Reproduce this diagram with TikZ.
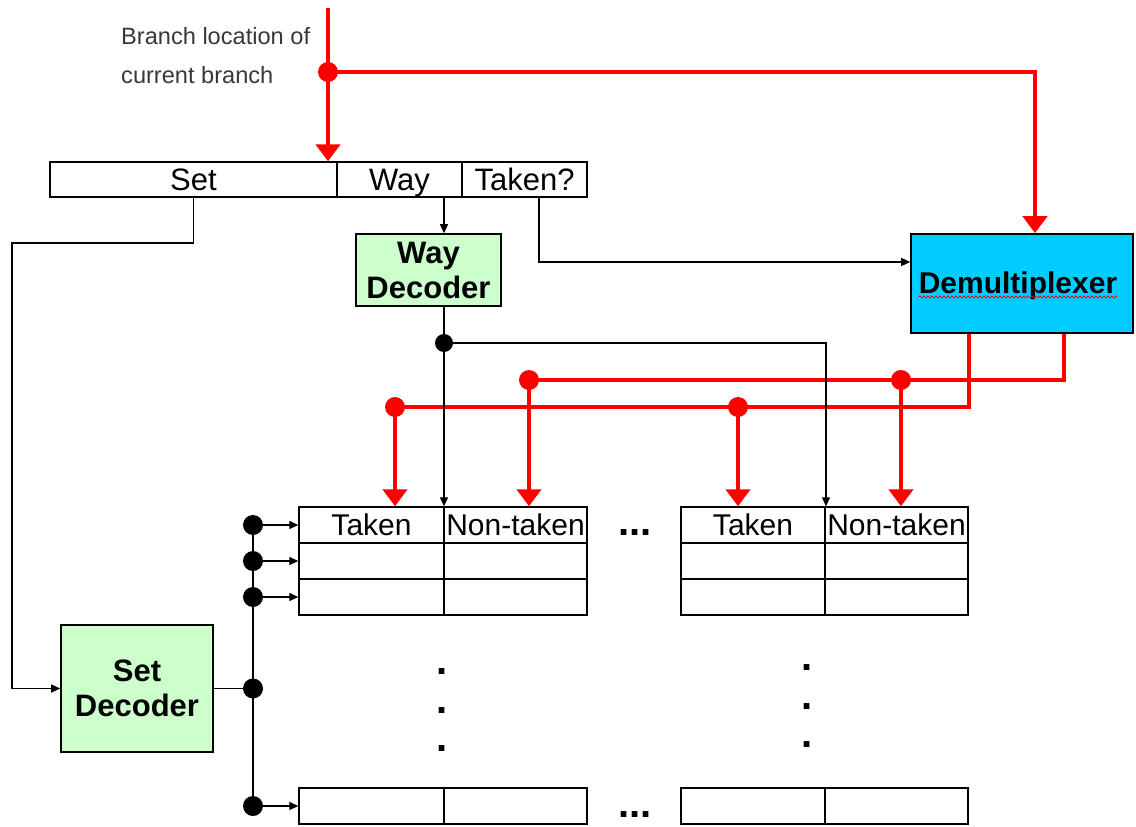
\documentclass[tikz,border=0pt]{standalone}
\usepackage{fontspec}
\setmainfont{Liberation Sans}
\usetikzlibrary{arrows.meta,decorations.pathmorphing}
\definecolor{decgreen}{HTML}{CCFFCC}
\definecolor{demuxblue}{HTML}{00CCFF}
\definecolor{sigred}{HTML}{FF0000}

\begin{document}
\begin{tikzpicture}[x=1pt,y=-1pt,
  cell/.style={draw, line width=1.4pt, inner sep=0pt, minimum height=36pt,
    text height=21pt, text depth=0pt, font=\fontsize{30}{32}\selectfont},
  field/.style={cell, minimum height=35pt, font=\fontsize{31}{32}\selectfont},
  unit/.style={draw, line width=1.6pt, inner sep=0pt, align=center,
    font=\bfseries\fontsize{31}{35}\selectfont},
  wire/.style={line width=1.3pt},
  warrow/.style={wire, -{Triangle[width=8pt,length=9pt]}},
  rwire/.style={sigred, line width=4.5pt},
  rarrow/.style={rwire, -{Triangle[width=24pt,length=17pt]}},
  rdot/.style={circle, fill=sigred, inner sep=0pt, minimum size=20pt},
  bdot/.style={circle, fill=black, inner sep=0pt, minimum size=20pt},
  note/.style={anchor=base west, inner sep=0pt, text=black!78,
    font=\fontsize{23.6}{28}\selectfont},
  gap/.style={anchor=base, inner sep=0pt, font=\bfseries\fontsize{40}{40}\selectfont},
]
\fill[white] (0,0) rectangle (1136,827);
\useasboundingbox (0,0) rectangle (1136,827);

% input label
\node[note] (lbl1) at (121,45) {Branch location of};
\node[note] (lbl2) at (121,83) {current branch};

% address fields
\node[field, minimum width=287pt] (hset) at (193.5,179.5) {Set};
\node[field, minimum width=125pt] (hway) at (399.5,179.5) {Way};
\node[field, minimum width=125pt] (htak) at (524.5,179.5) {Taken?};

% functional units
\node[unit, fill=decgreen, minimum width=145pt, minimum height=72pt] (wdec) at (428.5,270) {Way\\Decoder};
\node[unit, fill=decgreen, minimum width=152pt, minimum height=127pt] (sdec) at (137,688.5) {Set\\Decoder};
\node[unit, fill=demuxblue, minimum width=222pt, minimum height=99pt] (demux) at (1022,283.5) {};
\node[anchor=base, inner sep=0pt, font=\bfseries\fontsize{30}{32}\selectfont] (dmtext) at (1018,293) {Demultiplexer};
\draw[sigred, line width=0.7pt, decorate, decoration={snake, amplitude=1.1pt, segment length=4pt}]
  ([yshift=-4pt]dmtext.base west) -- ([yshift=-4pt]dmtext.base east);

% counter table, first way group
\node[cell, minimum width=145pt] (t1a0) at (371.5,525) {Taken};
\node[cell, minimum width=143pt] (t1b0) at (515.5,525) {Non-taken};
\node[cell, minimum width=145pt] (t1a1) at (371.5,561) {};
\node[cell, minimum width=143pt] (t1b1) at (515.5,561) {};
\node[cell, minimum width=145pt] (t1a2) at (371.5,597) {};
\node[cell, minimum width=143pt] (t1b2) at (515.5,597) {};
\node[cell, minimum width=145pt] (t1an) at (371.5,806) {};
\node[cell, minimum width=143pt] (t1bn) at (515.5,806) {};

% counter table, last way group
\node[cell, minimum width=144pt] (t2a0) at (753,525) {Taken};
\node[cell, minimum width=143pt] (t2b0) at (896.5,525) {Non-taken};
\node[cell, minimum width=144pt] (t2a1) at (753,561) {};
\node[cell, minimum width=143pt] (t2b1) at (896.5,561) {};
\node[cell, minimum width=144pt] (t2a2) at (753,597) {};
\node[cell, minimum width=143pt] (t2b2) at (896.5,597) {};
\node[cell, minimum width=144pt] (t2an) at (753,806) {};
\node[cell, minimum width=143pt] (t2bn) at (896.5,806) {};

% elided rows and groups
\node[gap] (hgap1) at (635,535) {...};
\node[gap] (hgap2) at (635,817) {...};
\node[gap] (v1a) at (442,674.5) {.};
\node[gap] (v1b) at (442,713.5) {.};
\node[gap] (v1c) at (442,751.5) {.};
\node[gap] (v2a) at (807,670.5) {.};
\node[gap] (v2b) at (807,709.5) {.};
\node[gap] (v2c) at (807,747.5) {.};

% junction points
\coordinate (rin) at (328,8);
\coordinate (rsplit) at (328,72);
\coordinate (rcorner) at (1035,72);
\coordinate (ra1) at (395,407);
\coordinate (ra2) at (738,407);
\coordinate (rb1) at (529,380);
\coordinate (rb2) at (901,380);
\coordinate (sbend) at (12,243);
\coordinate (wj) at (444,343);
\coordinate (wj2) at (826,343);
\coordinate (tj) at (539,262);
\coordinate (bd1) at (253,525);
\coordinate (bd2) at (253,561);
\coordinate (bd3) at (253,597);
\coordinate (bd4) at (253,688.5);
\coordinate (bd5) at (253,806);

% branch address (red)
\draw[rarrow] (rin) -- (rin |- hset.north);
\draw[rarrow] (rsplit) -- (rcorner) -- (rcorner |- demux.north);

% demultiplexer outputs (red)
\draw[rwire] ([xshift=-53pt]demux.south) |- (ra1);
\draw[rwire] ([xshift=42pt]demux.south) |- (rb1);
\draw[rarrow] (ra1) -- (ra1 |- t1a0.north);
\draw[rarrow] (ra2) -- (ra2 |- t2a0.north);
\draw[rarrow] (rb1) -- (rb1 |- t1b0.north);
\draw[rarrow] (rb2) -- (rb2 |- t2b0.north);

% set index path
\draw[warrow] (hset.south) |- (sbend) |- (sdec.west);

% way index path
\draw[warrow] (wj |- hway.south) -- (wj |- wdec.north);
\draw[wire] (wj |- wdec.south) -- (wj);
\draw[warrow] (wj) -- (wj |- t1a0.north);
\draw[warrow] (wj) -- (wj2) -- (wj2 |- t2a0.north);

% outcome bit to demultiplexer
\draw[warrow] (tj |- htak.south) -- (tj) -- (tj -| demux.west);

% set decoder row selects
\draw[wire] (bd1) -- (bd5);
\draw[wire] (sdec.east) -- (bd4);
\draw[warrow] (bd1) -- (t1a0.west);
\draw[warrow] (bd2) -- (t1a1.west);
\draw[warrow] (bd3) -- (t1a2.west);
\draw[warrow] (bd5) -- (t1an.west);

% junction dots
\node[rdot] (drsplit) at (rsplit) {};
\node[rdot] (dra1) at (ra1) {};
\node[rdot] (dra2) at (ra2) {};
\node[rdot] (drb1) at (rb1) {};
\node[rdot] (drb2) at (rb2) {};
\node[bdot, minimum size=18pt] (dwj) at (wj) {};
\node[bdot] (dbd1) at (bd1) {};
\node[bdot] (dbd2) at (bd2) {};
\node[bdot] (dbd3) at (bd3) {};
\node[bdot] (dbd4) at (bd4) {};
\node[bdot] (dbd5) at (bd5) {};
\end{tikzpicture}
\end{document}
